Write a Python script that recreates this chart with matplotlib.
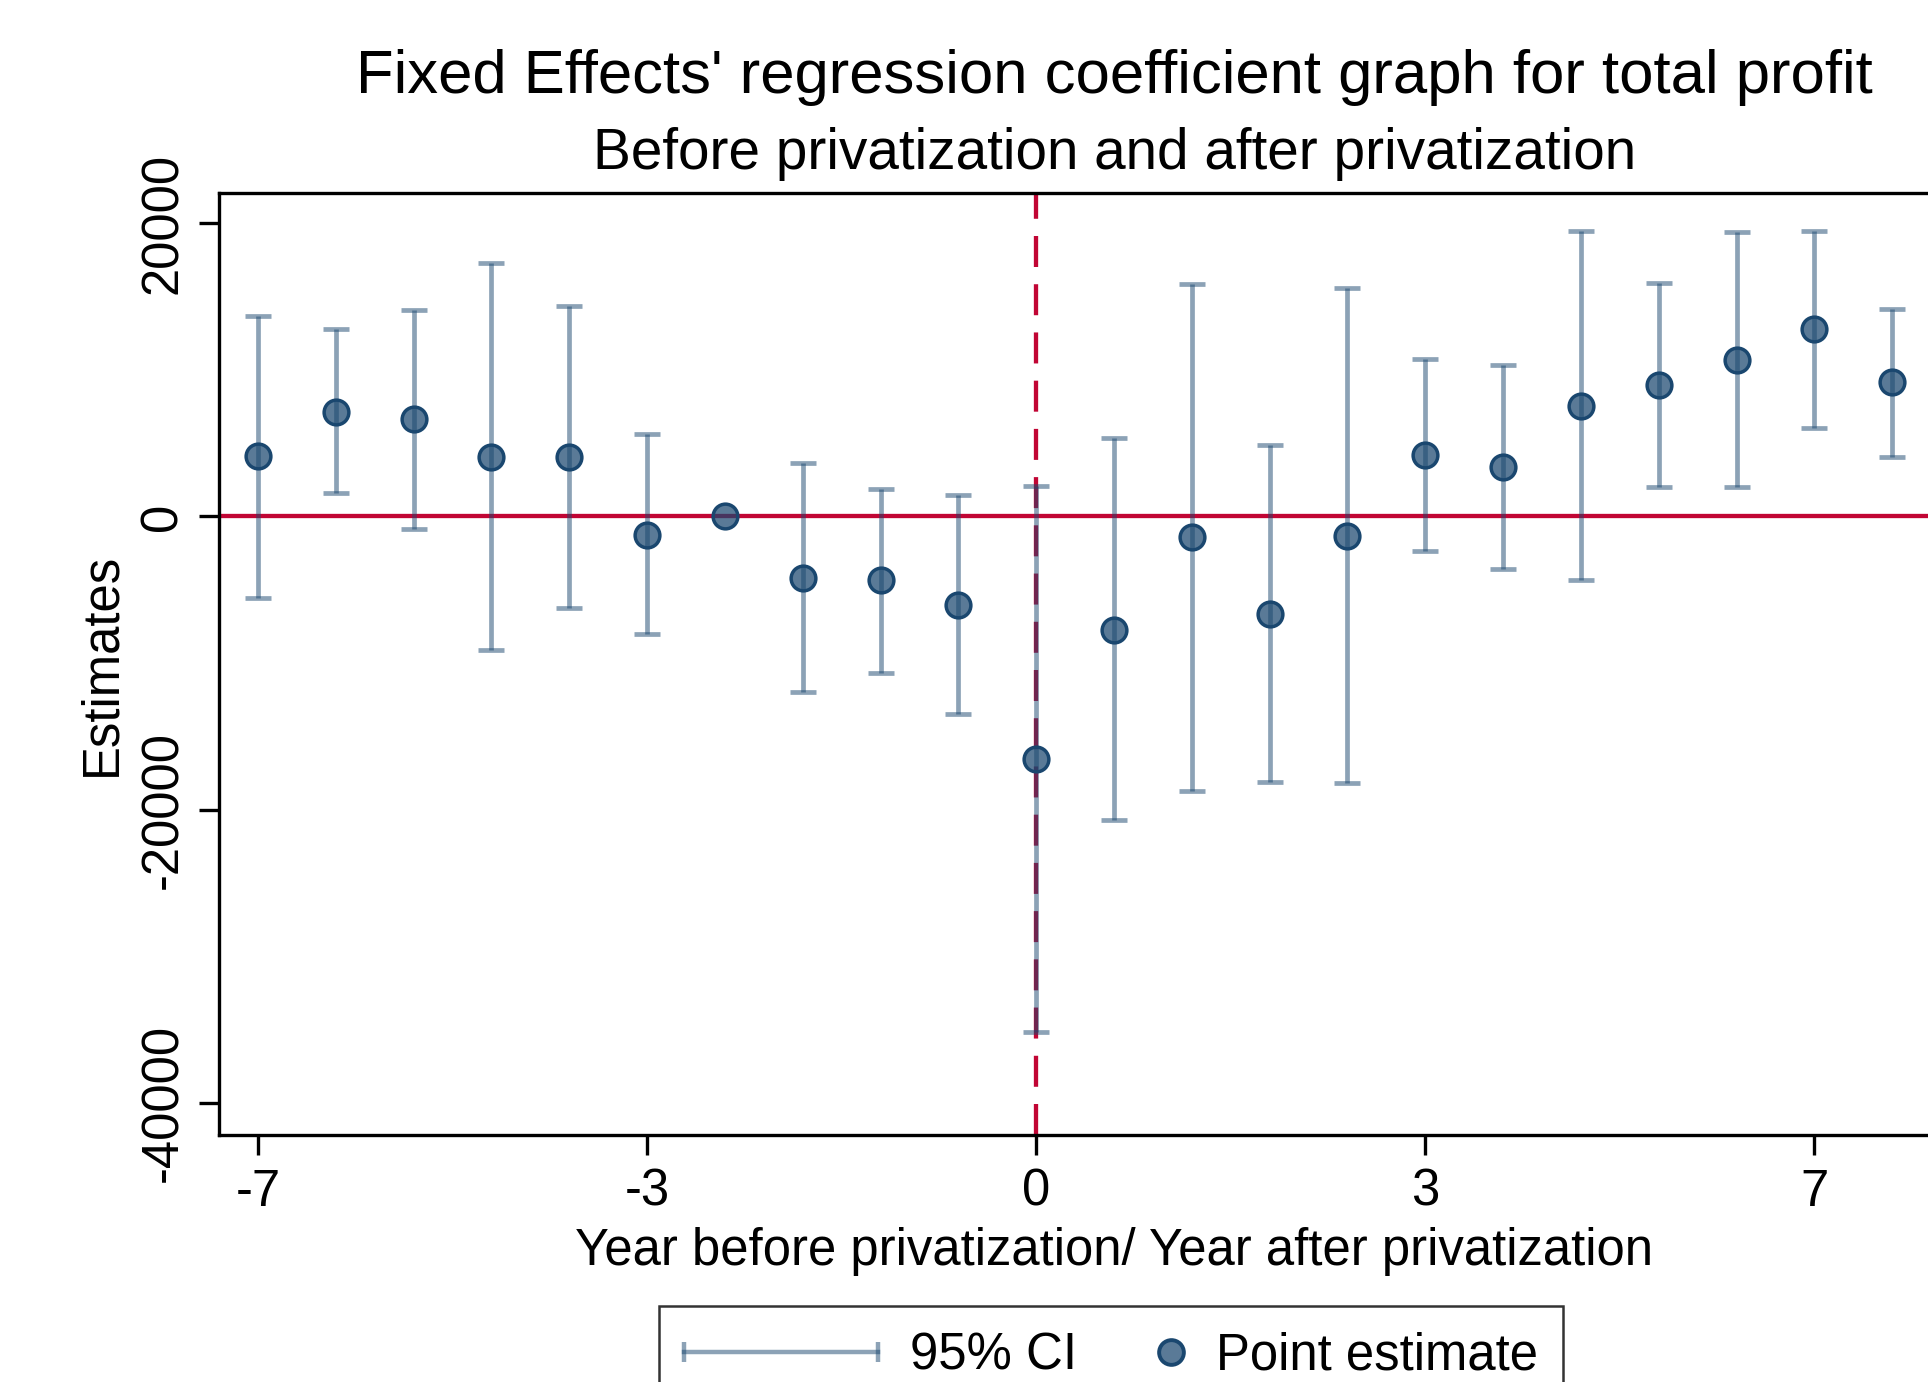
import numpy as np
import matplotlib
matplotlib.use("Agg")
import matplotlib.pyplot as plt
from matplotlib.lines import Line2D
from matplotlib.legend_handler import HandlerLine2D

plt.rcParams['font.family'] = ['Liberation Sans', 'DejaVu Sans']

# Coefficients (period 7 is the omitted reference year)
positions = list(range(1, 23))
estimate = [4100, 7130, 6630, 4030, 4030, -1260, 0, -4190, -4360, -6040, -16520,
            -7720, -1430, -6630, -1340, 4190, 3350, 7550, 8970, 10650, 12750, 9140]
ci_low = [-5540, 1590, -840, -9140, -6210, -8050, np.nan, -11990, -10650, -13500, -35140,
          -20710, -18700, -18110, -18200, -2350, -3610, -4360, 2010, 2010, 6040, 4030]
ci_high = [13670, 12750, 14090, 17280, 14340, 5620, np.nan, 3610, 1850, 1430, 2100,
           5370, 15850, 4860, 15600, 10730, 10320, 19460, 15930, 19370, 19460, 14170]
tick_pos = [1, 6, 11, 16, 21]
tick_lab = ['-7', '-3', '0', '3', '7']
y_ticks = [-40000, -20000, 0, 20000]

navy = '#1A476F'
navy_fill = (0.102, 0.278, 0.435, 0.72)
red = '#C10534'

est = np.array(estimate, dtype=float)
lo = np.array(ci_low, dtype=float)
hi = np.array(ci_high, dtype=float)
x = np.array(positions, dtype=float)
ok = np.isfinite(lo)

fig = plt.figure(figsize=(19.28, 13.82), dpi=100)
ax = fig.add_axes([0.1136, 0.1787, 0.9284, 0.6816])

ax.axhline(0, color=red, lw=3.1, zorder=1)
ax.axvline(11, color=red, lw=3.1, linestyle=(0, (7.2, 4)), zorder=1)

ax.errorbar(x[ok], est[ok], yerr=[est[ok] - lo[ok], hi[ok] - est[ok]],
            fmt='none', ecolor=navy, alpha=0.5, elinewidth=3.4,
            capsize=9.7, capthick=3.4, zorder=2)
ax.plot(x, est, linestyle='none', marker='o', markersize=17.8,
        markerfacecolor=navy_fill, markeredgecolor=navy,
        markeredgewidth=2.5, zorder=3)

ax.set_xlim(0.5, 23.5)
ax.set_ylim(-42180, 22050)
ax.set_xticks(tick_pos)
ax.set_xticklabels(tick_lab)
ax.set_yticks(y_ticks)
ax.set_yticklabels([str(v) for v in y_ticks])
for lab in ax.get_yticklabels():
    lab.set_rotation(90)
    lab.set_va('center')

for s in ax.spines.values():
    s.set_linewidth(2.4)
ax.tick_params(axis='both', length=14.5, width=2.4, labelsize=36.6, color='black')
ax.tick_params(axis='x', pad=9)
ax.tick_params(axis='y', pad=8)

ax.set_xlabel('Year before privatization/ Year after privatization', fontsize=36.6, va='baseline')
ax.xaxis.set_label_coords(0.5, -0.138)
ax.set_ylabel('Estimates', fontsize=36.6, va='center')
ax.yaxis.set_label_coords(-0.0654, 0.5)

fig.text(0.578, 0.9325, "Fixed Effects' regression coefficient graph for total profit",
         fontsize=44.4, ha='center', va='baseline')
fig.text(0.578, 0.878, 'Before privatization and after privatization',
         fontsize=40.9, ha='center', va='baseline')


class EndMarkerHandler(HandlerLine2D):
    # put the marker near the right end of the handle box
    def get_xdata(self, legend, xdescent, ydescent, width, height, fontsize):
        r = 0.25 * fontsize
        xe = -xdescent + width - r
        return np.array([xe - r, xe + r]), np.array([xe])


ci_handle = Line2D([], [], color=navy, alpha=0.5, lw=3.2, marker='|',
                   markersize=15, markeredgewidth=3.2)
pt_handle = Line2D([], [], linestyle='none', marker='o', markersize=17.8,
                   markerfacecolor=navy_fill, markeredgecolor=navy,
                   markeredgewidth=2.8)

leg = fig.legend([ci_handle, pt_handle], ['95% CI', 'Point estimate'],
                 loc='upper left', bbox_to_anchor=(659 / 1928, 1 - 1306 / 1382),
                 ncol=2, fontsize=36.6, frameon=True, fancybox=False,
                 handlelength=3.8, handletextpad=0.63, columnspacing=-1.69,
                 borderpad=0.5, borderaxespad=0,
                 handler_map={ci_handle: HandlerLine2D(numpoints=2, marker_pad=0),
                              pt_handle: EndMarkerHandler(numpoints=1)})
leg.get_frame().set_edgecolor('black')
leg.get_frame().set_linewidth(1.8)

fig.savefig('out.png', dpi=100)
